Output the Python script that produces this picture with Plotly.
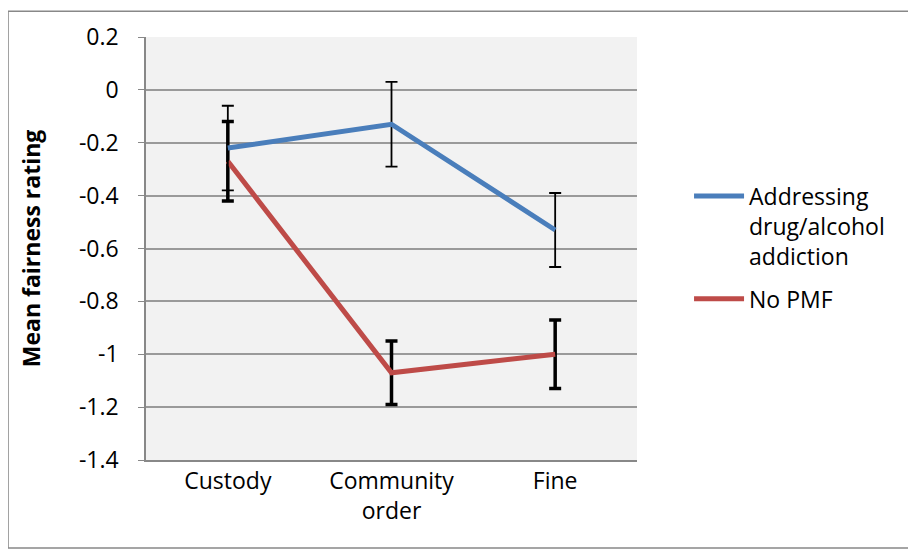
import plotly.graph_objects as go

categories = ["Custody", "Community<br>order", "Fine"]
addr_vals = [-0.22, -0.13, -0.53]
addr_err = [0.16, 0.16, 0.14]
nopmf_vals = [-0.27, -1.07, -1.00]
nopmf_err = [0.15, 0.12, 0.13]
y_ticks = [0.2, 0, -0.2, -0.4, -0.6, -0.8, -1, -1.2, -1.4]
y_tick_text = ["0.2", "0", "-0.2", "-0.4", "-0.6", "-0.8", "-1", "-1.2", "-1.4"]

FONT = "Open Sans"
FS = 23

fig = go.Figure()
fig.add_trace(go.Scatter(
    x=categories, y=nopmf_vals, mode="lines", name="No PMF",
    line=dict(color="#be4b48", width=5),
    error_y=dict(type="data", array=nopmf_err, visible=True, color="black", thickness=3.5, width=6),
    legendrank=2, legendgroup="b",
))
fig.add_trace(go.Scatter(
    x=categories, y=addr_vals, mode="lines", name="Addressing<br>drug/alcohol<br>addiction",
    line=dict(color="#4a7ebb", width=5),
    error_y=dict(type="data", array=addr_err, visible=True, color="black", thickness=1.8, width=6),
    legendrank=1, legendgroup="a",
))

fig.update_layout(
    width=908, height=541,
    margin=dict(l=138, r=279, t=26, b=89),
    paper_bgcolor="white",
    plot_bgcolor="#f2f2f2",
    font=dict(family=FONT, size=FS, color="black"),
    xaxis=dict(
        type="category", showgrid=False, showline=True, linecolor="#888888", linewidth=1.5,
        ticks="", tickfont=dict(size=FS), range=[-0.5, 2.5], ticklabelstandoff=0,
    ),
    yaxis=dict(
        range=[-1.4, 0.2], tickvals=y_ticks, ticktext=y_tick_text,
        showgrid=True, gridcolor="#9a9a9a", gridwidth=1.5,
        showline=True, linecolor="#888888", linewidth=1.5,
        ticks="outside", tickcolor="#888888", ticklen=6, ticklabelstandoff=15,
        zeroline=False, tickfont=dict(size=FS),
        title=dict(text="<b>Mean fairness rating</b>", font=dict(size=FS), standoff=32),
    ),
    legend=dict(
        x=1.106, y=0.675, xanchor="left", yanchor="top", valign="top",
        font=dict(size=FS), bgcolor="rgba(0,0,0,0)", itemwidth=50, tracegroupgap=10,
    ),
    shapes=[dict(type="rect", xref="paper", yref="paper", x0=-0.281, x1=1.558, y0=-0.208, y1=1.061,
                 line=dict(color="#888888", width=1.5), fillcolor="rgba(0,0,0,0)", layer="below")],
)

fig.write_html("out.html")
